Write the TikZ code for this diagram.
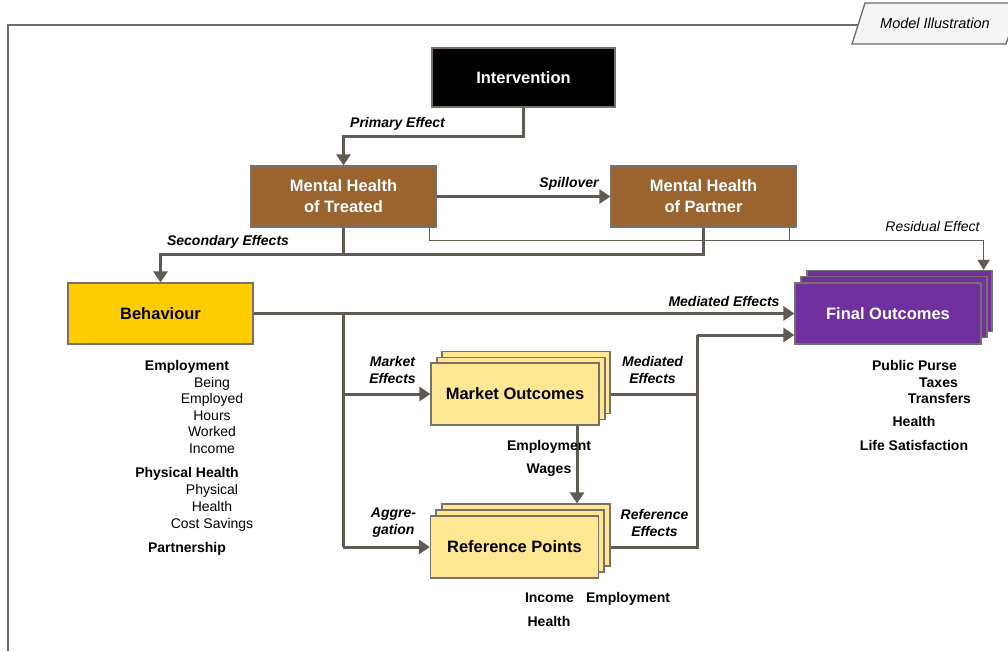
\documentclass[tikz,border=0pt]{standalone}
\usepackage{fontspec}
\setmainfont{Liberation Sans}
\usetikzlibrary{arrows.meta}
\definecolor{linegray}{HTML}{5F5A52}
\definecolor{edgegray}{HTML}{77716A}
\definecolor{framegray}{HTML}{6E6A64}
\definecolor{brownbox}{HTML}{9A6431}
\definecolor{yellowbox}{HTML}{FFCC00}
\definecolor{purplebox}{HTML}{7030A0}
\definecolor{paleyellow}{HTML}{FFE793}
\begin{document}
\begin{tikzpicture}[x=1pt,y=-1pt,
  box/.style={draw=edgegray,line width=1.2pt,minimum width=185pt,minimum height=61pt,inner sep=0pt,align=center,
    font=\fontsize{16.5}{21}\selectfont\bfseries},
  darkbox/.style={box,fill=black,text=white},
  mhbox/.style={box,fill=brownbox,text=white},
  behbox/.style={box,fill=yellowbox,text=black},
  finbox/.style={box,fill=purplebox,text=white,minimum width=186pt},
  palebox/.style={box,fill=paleyellow,text=black,minimum width=168pt,minimum height=62pt},
  conn/.style={draw=linegray,line width=3pt},
  arr/.style={conn,-{Triangle[length=11pt,width=14pt]}},
  thinarr/.style={draw=linegray,line width=1.4pt,-{Triangle[length=10pt,width=12pt]}},
  lab/.style={font=\fontsize{14}{17}\selectfont\bfseries\itshape,align=center,inner sep=0pt},
  item/.style={font=\fontsize{14}{16}\selectfont,inner sep=0pt,text height=10pt,text depth=0pt},
  bitem/.style={item,font=\fontsize{14}{16}\selectfont\bfseries}]
\useasboundingbox (0,0) rectangle (1008,651);

% frame and title tab
\draw[framegray,line width=1.3pt] (8,651) -- (8,25) -- (858,25);
\path[fill=gray!8,draw=framegray,line width=1.3pt] (852,44) -- (865,3) -- (1020,3) -- (1006,44) -- cycle;
\node[font=\fontsize{14.5}{16}\selectfont\itshape,inner sep=0pt] (tab) at (935,23) {Model Illustration};

% main boxes
\node[darkbox,minimum width=183pt,minimum height=59pt] (int) at (523.5,77.5) {Intervention};
\node[mhbox] (mht) at (343.5,196.5) {Mental Health\\of Treated};
\node[mhbox] (mhp) at (703.5,196.5) {Mental Health\\of Partner};
\node[behbox] (beh) at (160.5,313.5) {Behaviour};

% stacked boxes
\node[finbox,minimum width=185pt] (fo3) at (899.5,301) {};
\node[finbox] (fo2) at (894,307) {};
\node[finbox] (fo) at (888,313.5) {Final Outcomes};

\node[palebox] (mo3) at (526,382.5) {};
\node[palebox] (mo2) at (521,388.5) {};
\node[palebox] (mo) at (515,394) {Market Outcomes};

\node[palebox] (rp3) at (526,535) {};
\node[palebox] (rp2) at (520,541) {};
\node[palebox] (rp) at (514.5,547) {Reference Points};

% primary effect
\draw[arr] (int.south) -- ++(0,29) -| (mht.north);
% spillover
\draw[arr] (mht.east) -- (mhp.west);
% secondary effects
\coordinate (sec) at (mht.south |- 0,254);
\draw[arr] (mht.south) -- (sec) -| (beh.north);
\draw[conn] (mhp.south) |- (sec);
% residual effect
\coordinate (res) at ([xshift=-7pt]mht.south east);
\coordinate (resp) at ([xshift=-7pt]mhp.south east);
\coordinate (rest) at ([xshift=-9pt]fo3.north east);
\draw[thinarr] (res) -- ++(0,13) -| (rest);
\draw[draw=linegray,line width=1.4pt] (resp) -- ++(0,13);
% mediated effects from behaviour
\coordinate (split) at (343,313.5);
\draw[arr] (beh.east) -- (fo.west);
\draw[conn] (split) -- (split |- rp.west);
\draw[arr] (split |- mo.west) -- (mo.west);
\draw[arr] (split |- rp.west) -- (rp.west);
% market and reference outcomes to final outcomes
\coordinate (join) at (697,335);
\draw[conn] (mo3.east |- mo.east) -| (join);
\draw[conn] (rp3.east |- rp.east) -| (join);
\draw[arr] (join) -- (fo.west |- join);
% market outcomes to reference points
\draw[arr] ([xshift=62pt]mo.south) -- ([xshift=62pt]mo.south |- rp3.north);

% connector labels
\node[lab] (lprim) at (397.5,124) {Primary Effect};
\node[lab] (lspill) at (569,183.5) {Spillover};
\node[lab] (lsec) at (228,242) {Secondary Effects};
\node[font=\fontsize{14}{16}\selectfont\itshape,inner sep=0pt] (lres) at (932.5,226) {Residual Effect};
\node[lab] (lmed) at (724,301) {Mediated Effects};
\node[lab] (lmkt) at (392.5,369.5) {Market\\Effects};
\node[lab] (lmed2) at (652.5,369.5) {Mediated\\Effects};
\node[lab] (lagg) at (393.5,522.5) {Aggre-\\gation};
\node[lab] (lref) at (654.5,522.5) {Reference\\Effects};

% behaviour items
\node[bitem] (b1) at (187,365) {Employment};
\node[item] (b2) at (212,382) {Being};
\node[item] (b3) at (212,398) {Employed};
\node[item] (b4) at (212,415) {Hours};
\node[item] (b5) at (212,431) {Worked};
\node[item] (b6) at (212,448) {Income};
\node[bitem] (b7) at (187,472) {Physical Health};
\node[item] (b8) at (212,489) {Physical};
\node[item] (b9) at (212,506) {Health};
\node[item] (b10) at (212,523) {Cost Savings};
\node[bitem] (b11) at (187,547) {Partnership};

% market and reference items
\node[bitem] (m1) at (549,445) {Employment};
\node[bitem] (m2) at (549,468) {Wages};
\node[bitem] (r1) at (549.5,597) {Income};
\node[bitem] (r2) at (628,597) {Employment};
\node[bitem] (r3) at (549,621) {Health};

% final outcome items
\node[bitem] (f1) at (914.5,365) {Public Purse};
\node[bitem] (f2) at (938.5,382) {Taxes};
\node[bitem] (f3) at (939.5,398) {Transfers};
\node[bitem] (f4) at (914,421) {Health};
\node[bitem] (f5) at (914,445) {Life Satisfaction};
\end{tikzpicture}
\end{document}
